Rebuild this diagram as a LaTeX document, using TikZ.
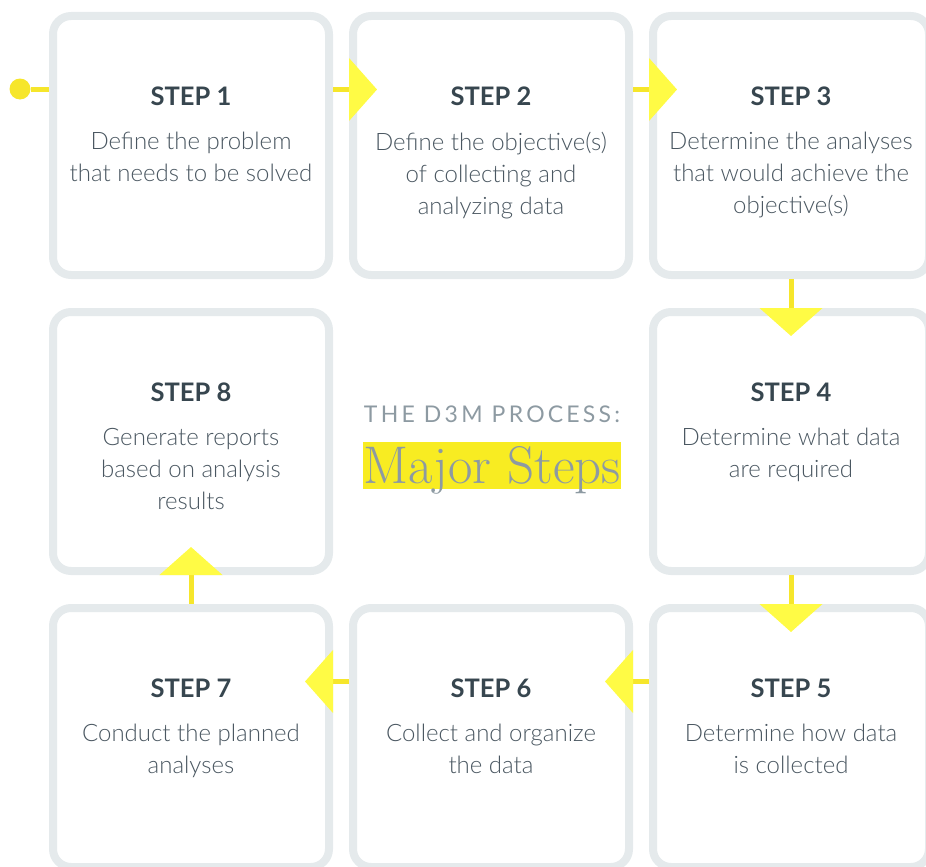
\documentclass[tikz,border=0pt]{standalone}
\usepackage{fontspec}
\usepackage{xcolor}
\usepackage{tikz}
\usetikzlibrary{arrows.meta,calc,positioning}
\newfontfamily\stepfont{Lato}
\newfontfamily\lightfont{Lato Light}
\newfontfamily\capsfont[LetterSpace=14]{Lato}
\definecolor{dmBorder}{HTML}{E5EAEC}
\definecolor{dmLine}{HTML}{F6E62B}
\definecolor{dmTip}{HTML}{FFFB45}
\definecolor{dmDark}{HTML}{37464F}
\definecolor{dmText}{HTML}{4A5761}
\definecolor{dmGray}{HTML}{8D9AA2}
\definecolor{dmMark}{HTML}{F8EC22}
\tikzset{
  dmbox/.style={rectangle,rounded corners=18pt,draw=dmBorder,line width=8pt,
                fill=white,minimum width=276pt,minimum height=259pt,inner sep=0pt},
  dmstep/.style={anchor=base,inner sep=0pt,text=dmDark,
                 font=\stepfont\bfseries\fontsize{25.5}{30}\selectfont},
  dmtext/.style={anchor=north,inner sep=0pt,align=center,text=dmText,
                 font=\lightfont\fontsize{24}{32}\selectfont},
  dmline/.style={line width=5pt,dmLine},
  dmlink/.style={dmline,-{Triangle[length=28pt,width=62pt,color=dmTip]}},
  dmdot/.style={circle,fill=dmLine,minimum size=21pt,inner sep=0pt}
}

\begin{document}
\begin{tikzpicture}[x=1pt,y=-1pt]
    \useasboundingbox (0,0) rectangle (926,867);

    % the eight steps, clockwise from the top left
    \node[dmbox] (s1) at (191,145.5) {};
    \node[dmbox] (s2) at (491,145.5) {};
    \node[dmbox] (s3) at (791,145.5) {};
    \node[dmbox] (s4) at (791,441.5) {};
    \node[dmbox] (s5) at (791,737.5) {};
    \node[dmbox] (s6) at (491,737.5) {};
    \node[dmbox] (s7) at (191,737.5) {};
    \node[dmbox] (s8) at (191,441.5) {};

    \node[dmstep] (h1) at ([yshift=-93pt]s1.north) {STEP 1};
    \node[dmtext] (d1) at ([yshift=-120pt]s1.north)
      {Define the problem\\that needs to be solved};
    \node[dmstep] (h2) at ([yshift=-93pt]s2.north) {STEP 2};
    \node[dmtext] (d2) at ([yshift=-120pt]s2.north)
      {Define the objective(s)\\of collecting and\\analyzing data};
    \node[dmstep] (h3) at ([yshift=-93pt]s3.north) {STEP 3};
    \node[dmtext] (d3) at ([yshift=-120pt]s3.north)
      {Determine the analyses\\that would achieve the\\objective(s)};
    \node[dmstep] (h4) at ([yshift=-93pt]s4.north) {STEP 4};
    \node[dmtext] (d4) at ([yshift=-120pt]s4.north)
      {Determine what data\\are required};
    \node[dmstep] (h5) at ([yshift=-93pt]s5.north) {STEP 5};
    \node[dmtext] (d5) at ([yshift=-120pt]s5.north)
      {Determine how data\\is collected};
    \node[dmstep] (h6) at ([yshift=-93pt]s6.north) {STEP 6};
    \node[dmtext] (d6) at ([yshift=-120pt]s6.north)
      {Collect and organize\\the data};
    \node[dmstep] (h7) at ([yshift=-93pt]s7.north) {STEP 7};
    \node[dmtext] (d7) at ([yshift=-120pt]s7.north)
      {Conduct the planned\\analyses};
    \node[dmstep] (h8) at ([yshift=-93pt]s8.north) {STEP 8};
    \node[dmtext] (d8) at ([yshift=-120pt]s8.north)
      {Generate reports\\based on analysis\\results};

    % title in the middle
    \node[anchor=base,inner sep=0pt,text=dmGray,
          font=\capsfont\fontsize{23}{24}\selectfont]
      (head) at (492,422) {THE D3M PROCESS:};
    \node[anchor=base,inner sep=0pt,text=dmGray,fill=dmMark,
          text height=41pt,text depth=6pt,font=\rmfamily\fontsize{53}{53}\selectfont]
      (major) at (492,483) {Major Steps};

    % yellow flow
    \node[dmdot] (start) at (20,89) {};
    \draw[dmline] (start) -- (start -| s1.west);
    \draw[dmlink] ([yshift=56pt]s1.east) -- ([yshift=56pt,xshift=28pt]s2.west);
    \draw[dmlink] ([yshift=56pt]s2.east) -- ([yshift=56pt,xshift=28pt]s3.west);
    \draw[dmlink] (s3.south) -- ([yshift=-28pt]s4.north);
    \draw[dmlink] (s4.south) -- ([yshift=-28pt]s5.north);
    \draw[dmlink] ([yshift=56pt]s5.west) -- ([yshift=56pt,xshift=-28pt]s6.east);
    \draw[dmlink] ([yshift=56pt]s6.west) -- ([yshift=56pt,xshift=-28pt]s7.east);
    \draw[dmlink] (s7.north) -- ([yshift=28pt]s8.south);
\end{tikzpicture}
\end{document}
